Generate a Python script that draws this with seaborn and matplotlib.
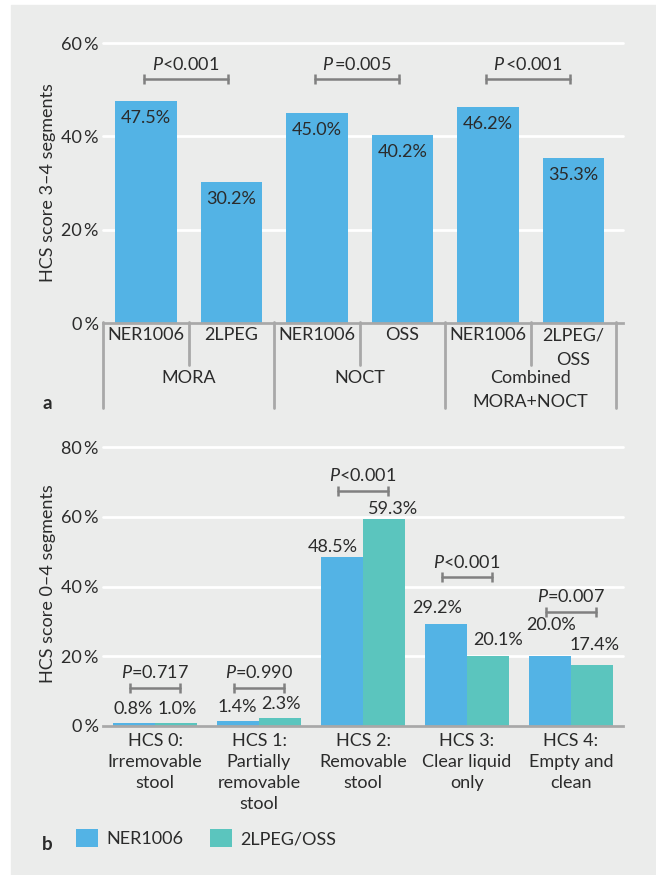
import matplotlib
matplotlib.use("Agg")
import matplotlib.pyplot as plt
import seaborn as sns
import pandas as pd
from matplotlib.patches import Rectangle
from matplotlib.transforms import blended_transform_factory

# ---------------- data ----------------
top_keys = ["MORA_NER", "MORA_2LPEG", "NOCT_NER", "NOCT_OSS", "COMB_NER", "COMB_2LPEGOSS"]
top_bar_labels = ["NER1006", "2LPEG", "NER1006", "OSS", "NER1006", "2LPEG/\nOSS"]
top_values = [47.5, 30.2, 45.0, 40.2, 46.2, 35.3]
top_groups = ["MORA", "NOCT", "Combined\nMORA+NOCT"]
top_pvalues = ["<0.001", "\u2009=0.005", "\u2009<0.001"]
top_yticks = [0, 20, 40, 60]

bot_categories = ["HCS 0:\nIrremovable\nstool", "HCS 1:\nPartially\nremovable\nstool",
                  "HCS 2:\nRemovable\nstool", "HCS 3:\nClear liquid\nonly",
                  "HCS 4:\nEmpty and\nclean"]
series = ["NER1006", "2LPEG/OSS"]
bot_ner = [0.8, 1.4, 48.5, 29.2, 20.0]
bot_lpeg = [1.0, 2.3, 59.3, 20.1, 17.4]
bot_pvalues = ["=0.717", "=0.990", "<0.001", "<0.001", "=0.007"]
bot_yticks = [0, 20, 40, 60, 80]

# ---------------- style ----------------
BG = "#ebeceb"
BLUE = "#53b3e5"
TEAL = "#5bc5be"
TXT = "#2b2b2b"
BRK = "#808080"
SEP = "#a8a8a8"
FS = 13

sns.set_theme(style="white")
plt.rcParams["font.family"] = ["Lato", "DejaVu Sans"]
plt.rcParams["mathtext.fontset"] = "custom"
plt.rcParams["mathtext.it"] = "Lato:italic"
plt.rcParams["mathtext.rm"] = "Lato"
plt.rcParams["font.size"] = FS
plt.rcParams["text.color"] = TXT

W, H = 656, 875
fig = plt.figure(figsize=(W / 100, H / 100), dpi=100)
fig.patch.set_facecolor("white")
fig.patches.append(Rectangle((11 / W, 0), 1 - 11 / W, 1 - 5 / H,
                             transform=fig.transFigure, color=BG, zorder=-10))


def fy(py):
    return 1 - py / H


def style_axes(ax, yticks):
    ax.set_facecolor(BG)
    for s in ["top", "right", "left"]:
        ax.spines[s].set_visible(False)
    ax.spines["bottom"].set_color(SEP)
    ax.spines["bottom"].set_linewidth(2)
    ax.spines["bottom"].set_zorder(5)
    ax.set_yticks(yticks)
    ax.set_yticklabels([f"{v}\u2009%" for v in yticks])
    ax.tick_params(axis="both", length=0, labelsize=FS, colors=TXT)
    ax.tick_params(axis="y", pad=3)
    ax.yaxis.grid(True, color="white", lw=2)
    ax.xaxis.grid(False)
    ax.set_axisbelow(True)
    for gl in ax.get_ygridlines():
        gl.set_clip_on(False)
    ax.set_xlabel("")


def bracket(ax, x0, x1, y, ptxt, dy):
    ax.plot([x0, x1], [y, y], color=BRK, lw=1.8, marker="|", markersize=7,
            markeredgewidth=1.8, clip_on=False, zorder=4)
    ax.annotate(r"$P$" + ptxt, xy=((x0 + x1) / 2, y), xytext=(0, dy),
                textcoords="offset pixels", ha="center", va="center",
                fontsize=FS, color=TXT)


# ---------------- panel a ----------------
ax1 = fig.add_axes([103 / W, fy(323), 520 / W, 280 / H])
df_top = pd.DataFrame({"key": top_keys, "value": top_values})
sns.barplot(data=df_top, x="key", y="value", order=top_keys, color=BLUE,
            saturation=1, width=0.72, linewidth=0, ax=ax1)
ax1.set_xlim(-0.5, 5.58)
ax1.set_ylim(0, 60)
style_axes(ax1, top_yticks)
ax1.set_xticks(range(len(top_keys)))
ax1.set_xticklabels(top_bar_labels, linespacing=1.7)
ax1.tick_params(axis="x", pad=3)
ax1.set_ylabel("HCS score 3\u20134 segments", fontsize=FS, color=TXT)
ax1.yaxis.set_label_coords(-0.106, 0.5)
ax1.yaxis.label.set_va("center")

for bar, v in zip(ax1.patches, top_values):
    ax1.annotate(f"{v:.1f}%", xy=(bar.get_x() + bar.get_width() / 2, v),
                 xytext=(0, -17), textcoords="offset pixels",
                 ha="center", va="center", fontsize=FS, color=TXT)

for g, p in enumerate(top_pvalues):
    bracket(ax1, 2 * g - 0.02, 2 * g + 0.96, 52.3, p, 14)

tr1 = blended_transform_factory(ax1.transData, fig.transFigure)
for x in [-0.5, 1.5, 3.5, 5.5]:
    ax1.plot([x, x], [fy(322), fy(408)], color=SEP, lw=2, transform=tr1, clip_on=False)
for x in [0.5, 2.5, 4.5]:
    ax1.plot([x, x], [fy(322), fy(365)], color=SEP, lw=2, transform=tr1, clip_on=False)
for g, name in enumerate(top_groups):
    ypix = 378 if "\n" not in name else 390
    ax1.text(2 * g + 0.5, fy(ypix), name, transform=tr1, ha="center", va="center",
             fontsize=FS, color=TXT, linespacing=1.65)

fig.text(47 / W, fy(403), "a", fontsize=13.5, weight="bold", ha="center", va="center",
         color=TXT)

# ---------------- panel b ----------------
ax2 = fig.add_axes([103 / W, fy(726), 520 / W, 279 / H])
df_bot = pd.DataFrame({
    "category": bot_categories * 2,
    "series": [series[0]] * len(bot_categories) + [series[1]] * len(bot_categories),
    "value": bot_ner + bot_lpeg,
})
sns.barplot(data=df_bot, x="category", y="value", hue="series", order=bot_categories,
            hue_order=series, palette=[BLUE, TEAL], saturation=1, width=0.8,
            linewidth=0, ax=ax2)
ax2.set_xlim(-0.5, 4.5)
ax2.set_ylim(0, 80)
style_axes(ax2, bot_yticks)
ax2.set_xticks(range(len(bot_categories)))
ax2.set_xticklabels(bot_categories, linespacing=1.38)
ax2.tick_params(axis="x", pad=5)
ax2.set_ylabel("HCS score 0\u20134 segments", fontsize=FS, color=TXT)
ax2.yaxis.set_label_coords(-0.106, 0.51)
ax2.yaxis.label.set_va("center")

label_offsets = [
    [(-1, 14), (-1, 14), (-9, 10), (-9, 16), (1, 31)],
    [(1, 14), (1, 14), (9, 10), (10, 16), (3, 20)],
]
for j, (cont, vals) in enumerate(zip(ax2.containers, [bot_ner, bot_lpeg])):
    for i, (bar, v) in enumerate(zip(cont, vals)):
        dx, dy = label_offsets[j][i]
        ax2.annotate(f"{v:.1f}%", xy=(bar.get_x() + bar.get_width() / 2, v),
                     xytext=(dx, dy), textcoords="offset pixels",
                     ha="center", va="center", fontsize=FS, color=TXT)

bracket_levels = [10.9, 10.9, 67.4, 42.7, 32.7]
for i, p in enumerate(bot_pvalues):
    bracket(ax2, i - 0.24, i + 0.24, bracket_levels[i], p, 15)

sns.move_legend(ax2, loc="center left", bbox_to_anchor=(76 / W, fy(838)),
                bbox_transform=fig.transFigure, ncol=2, frameon=False, title=None,
                handlelength=1.22, handleheight=1.22, handletextpad=0.44,
                columnspacing=1.5, borderpad=0, borderaxespad=0, fontsize=FS)
for t in ax2.get_legend().get_texts():
    t.set_color(TXT)

fig.text(47 / W, fy(844), "b", fontsize=13.5, weight="bold", ha="center", va="center",
         color=TXT)

fig.savefig("out.png", dpi=100, facecolor="white")
